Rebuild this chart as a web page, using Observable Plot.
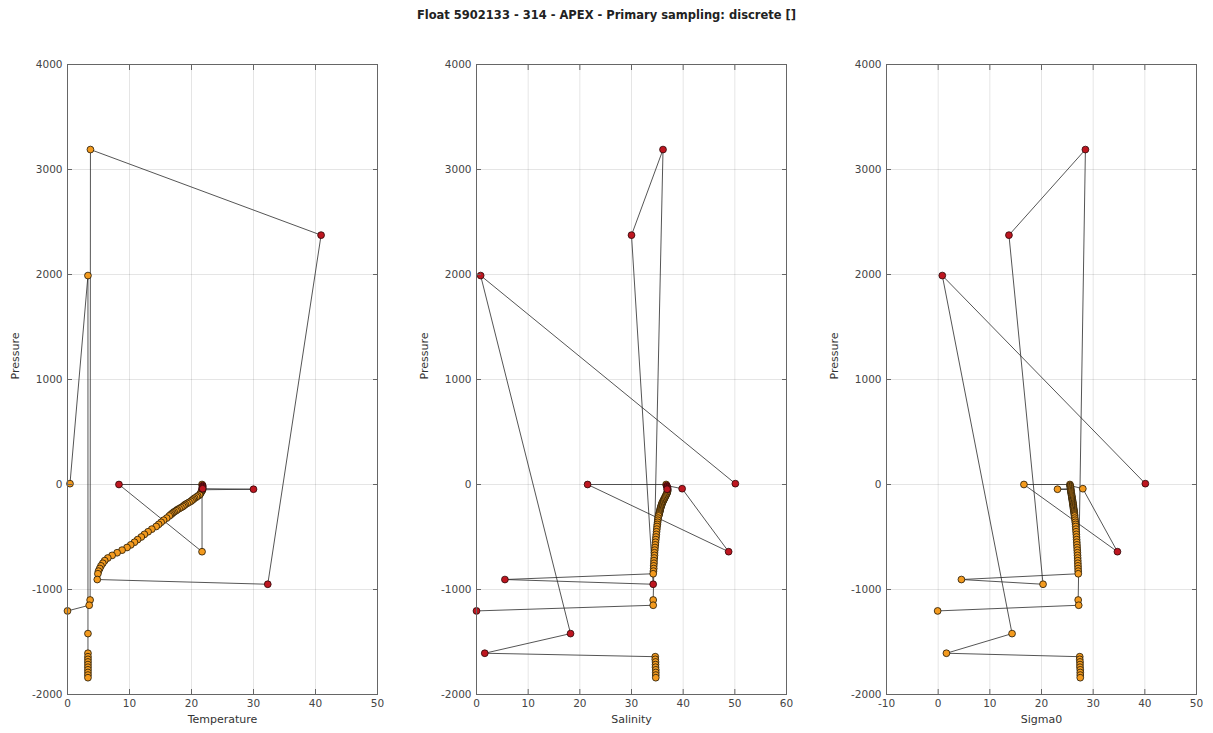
<!DOCTYPE html>
<html><head><meta charset="utf-8">
<script src="https://cdn.jsdelivr.net/npm/d3@7"></script>
<script src="https://cdn.jsdelivr.net/npm/@observablehq/plot@0.6"></script>
<style>
body{margin:0;background:#fff;}
#wrap{position:relative;width:1213px;height:733px;font-family:"DejaVu Sans",sans-serif;}
#title{position:absolute;top:8px;left:0;width:1213px;text-align:center;font-weight:bold;font-size:11.5px;color:#222;}
.panel{position:absolute;top:30px;}
</style></head><body>
<div id="wrap"><div id="title">Float 5902133 - 314 - APEX - Primary sampling: discrete []</div></div>
<script>
// ---- data (sample order as stored) ----
const pressure = [
 0, 0, -640, -40,
 -10, -20, -30, -40, -45,
 -50, -60, -70, -80, -90, -100,
 -110, -120, -130, -140, -150, -160, -170, -180, -190, -200,
 -210, -220, -230, -240, -250, -260, -270, -280, -290, -300,
 -320, -340, -360, -380, -400,
 -425, -450, -475, -500, -525, -550, -575, -600, -625, -650, -675, -700, -725, -750, -775, -800, -825, -850,
 -905, -950, 2375, 3190, -1100, -1150, -1204,
 8, 1990, -1420, -1607,
 -1640, -1665, -1690, -1715, -1740, -1765, -1790, -1815, -1840
];
const temperature = [
 21.7, 8.3, 21.7, 21.7,
 21.8, 21.8, 21.8, 21.8, 30.0,
 21.8, 21.7, 21.6, 21.5, 21.4, 21.3,
 21.0, 20.8, 20.5, 20.3, 20.1, 19.9, 19.6, 19.3, 19.0, 18.8,
 18.6, 18.3, 18.0, 17.7, 17.5, 17.2, 17.0, 16.8, 16.6, 16.4,
 16.0, 15.5, 15.1, 14.7, 14.3,
 13.6, 13.0, 12.4, 11.9, 11.3, 10.8, 10.2, 9.6, 8.8, 8.0, 7.2, 6.5, 6.0, 5.7, 5.4, 5.2, 5.0, 4.9,
 4.8, 32.3, 40.9, 3.7, 3.65, 3.5, 0.0,
 0.4, 3.3, 3.3, 3.3,
 3.3, 3.3, 3.3, 3.3, 3.3, 3.3, 3.3, 3.3, 3.3
];
const salinity = [
 36.7, 21.5, 48.8, 39.8,
 36.8, 36.9, 36.95, 37.0, 36.9,
 37.0, 37.0, 36.95, 36.9, 36.8, 36.7,
 36.6, 36.5, 36.4, 36.3, 36.2, 36.1, 36.0, 35.9, 35.85, 35.8,
 35.7, 35.65, 35.6, 35.55, 35.5, 35.45, 35.4, 35.35, 35.3, 35.25,
 35.15, 35.1, 35.05, 35.0, 34.95,
 34.9, 34.85, 34.8, 34.75, 34.7, 34.65, 34.6, 34.55, 34.5, 34.45, 34.45, 34.4, 34.35, 34.35, 34.3, 34.3, 34.25, 34.2,
 5.5, 34.2, 30.0, 36.1, 34.2, 34.2, 0.0,
 50.1, 0.8, 18.2, 1.6,
 34.6, 34.6, 34.65, 34.65, 34.65, 34.7, 34.7, 34.7, 34.7
];
const sigma0 = [
 25.5, 16.6, 34.7, 28.0,
 25.55, 25.6, 25.6, 25.65, 23.1,
 25.65, 25.7, 25.7, 25.75, 25.8, 25.8,
 25.85, 25.9, 25.9, 25.95, 26.0, 26.0, 26.05, 26.1, 26.1, 26.15,
 26.15, 26.2, 26.2, 26.25, 26.3, 26.3, 26.35, 26.35, 26.4, 26.4,
 26.45, 26.5, 26.55, 26.6, 26.62,
 26.66, 26.7, 26.74, 26.77, 26.8, 26.83, 26.86, 26.89, 26.92, 26.95, 26.97, 27.0, 27.02, 27.04, 27.06, 27.08, 27.1, 27.12,
 4.5, 20.3, 13.7, 28.5, 27.1, 27.2, -0.1,
 40.1, 0.8, 14.3, 1.6,
 27.4, 27.4, 27.45, 27.45, 27.45, 27.5, 27.5, 27.5, 27.5
];
// QC flags: 1 good, 4 bad
const tempQC = [
 1, 4, 1, 4,
 4, 4, 4, 4, 4,
 1, 1, 1, 1, 1, 1,
 1, 1, 1, 1, 1, 1, 1, 1, 1, 1,
 1, 1, 1, 1, 1, 1, 1, 1, 1, 1,
 1, 1, 1, 1, 1,
 1, 1, 1, 1, 1, 1, 1, 1, 1, 1, 1, 1, 1, 1, 1, 1, 1, 1,
 1, 4, 4, 1, 1, 1, 1,
 1, 1, 1, 1,
 1, 1, 1, 1, 1, 1, 1, 1, 1
];
const psalQC = [
 1, 4, 4, 4,
 4, 4, 4, 4, 4,
 1, 1, 1, 1, 1, 1,
 1, 1, 1, 1, 1, 1, 1, 1, 1, 1,
 1, 1, 1, 1, 1, 1, 1, 1, 1, 1,
 1, 1, 1, 1, 1,
 1, 1, 1, 1, 1, 1, 1, 1, 1, 1, 1, 1, 1, 1, 1, 1, 1, 1,
 4, 4, 4, 4, 1, 1, 4,
 4, 4, 4, 4,
 1, 1, 1, 1, 1, 1, 1, 1, 1
];
const sigmaQC = [
 1, 1, 4, 1,
 1, 1, 1, 1, 1,
 1, 1, 1, 1, 1, 1,
 1, 1, 1, 1, 1, 1, 1, 1, 1, 1,
 1, 1, 1, 1, 1, 1, 1, 1, 1, 1,
 1, 1, 1, 1, 1,
 1, 1, 1, 1, 1, 1, 1, 1, 1, 1, 1, 1, 1, 1, 1, 1, 1, 1,
 1, 1, 4, 4, 1, 1, 1,
 4, 4, 1, 1,
 1, 1, 1, 1, 1, 1, 1, 1, 1
];
// line segment (a missing level splits the polyline)
const segment = [
 1, 1, 1, 1,
 1, 1, 1, 1, 1,
 1, 1, 1, 1, 1, 1,
 1, 1, 1, 1, 1, 1, 1, 1, 1, 1,
 1, 1, 1, 1, 1, 1, 1, 1, 1, 1,
 1, 1, 1, 1, 1,
 1, 1, 1, 1, 1, 1, 1, 1, 1, 1, 1, 1, 1, 1, 1, 1, 1, 1,
 1, 1, 1, 1, 1, 1, 1,
 2, 2, 2, 2,
 2, 2, 2, 2, 2, 2, 2, 2, 2
];
const yTicks = [-2000, -1000, 0, 1000, 2000, 3000, 4000];
const tempTicks = [0, 10, 20, 30, 40, 50];
const salTicks = [0, 10, 20, 30, 40, 50, 60];
const sigTicks = [-10, 0, 10, 20, 30, 40, 50];

const rows = pressure.map((p, i) => ({
  p, temp: temperature[i], psal: salinity[i], sig: sigma0[i],
  tqc: tempQC[i], sqc: psalQC[i], gqc: sigmaQC[i], seg: segment[i]
}));

const ORANGE = "#f39a1e", RED = "#be1620";
const FONT = "DejaVu Sans, sans-serif";

function panel({key, qc, ticks, label, left, width, marginRight}) {
  const fmt = d => String(d);
  const chart = Plot.plot({
    width, height: 703,
    marginTop: 34, marginBottom: 39, marginLeft: 67, marginRight,
    style: {fontFamily: FONT, fontSize: "10.5px", color: "#444", background: "transparent", overflow: "visible"},
    x: {domain: [ticks[0], ticks[ticks.length - 1]], label: null},
    y: {domain: [-2000, 4000], label: null},
    marks: [
      Plot.gridX(ticks, {stroke: "#000", strokeOpacity: 0.1}),
      Plot.gridY(yTicks, {stroke: "#000", strokeOpacity: 0.1}),
      Plot.line(rows, {x: key, y: "p", z: "seg", stroke: "#2a2a2a", strokeWidth: 0.8}),
      Plot.dot(rows.filter(d => d[qc] !== 4), {x: key, y: "p", r: 3.4, fill: ORANGE, stroke: "#1e1608", strokeWidth: 0.8}),
      Plot.dot(rows.filter(d => d[qc] === 4), {x: key, y: "p", r: 3.4, fill: RED, stroke: "#2a0808", strokeWidth: 0.8}),
      Plot.frame({stroke: "#666"}),
      Plot.axisX(ticks, {anchor: "bottom", tickSize: -5, tickPadding: 10, tickFormat: fmt, label: null, stroke: "#666"}),
      Plot.axisX(ticks, {anchor: "top", tickSize: -5, tickFormat: () => "", label: null, stroke: "#666"}),
      Plot.axisY(yTicks, {anchor: "left", tickSize: -5, tickPadding: 10, tickFormat: fmt, label: null, stroke: "#666"}),
      Plot.axisY(yTicks, {anchor: "right", tickSize: -5, tickFormat: () => "", label: null, stroke: "#666"}),
      Plot.text([label], {text: d => d, frameAnchor: "bottom", dy: 28, fontSize: 11, fill: "#333"}),
      Plot.text(["Pressure"], {text: d => d, frameAnchor: "left", rotate: -90, dx: -52, fontSize: 11, fill: "#333"})
    ]
  });
  chart.classList.add("panel");
  chart.style.left = left + "px";
  document.getElementById("wrap").appendChild(chart);
}

panel({key: "temp", qc: "tqc", ticks: tempTicks, label: "Temperature", left: 0, width: 404, marginRight: 27});
panel({key: "psal", qc: "sqc", ticks: salTicks, label: "Salinity", left: 409, width: 404, marginRight: 27});
panel({key: "sig", qc: "gqc", ticks: sigTicks, label: "Sigma0", left: 819, width: 394, marginRight: 17});
</script>
</body></html>
